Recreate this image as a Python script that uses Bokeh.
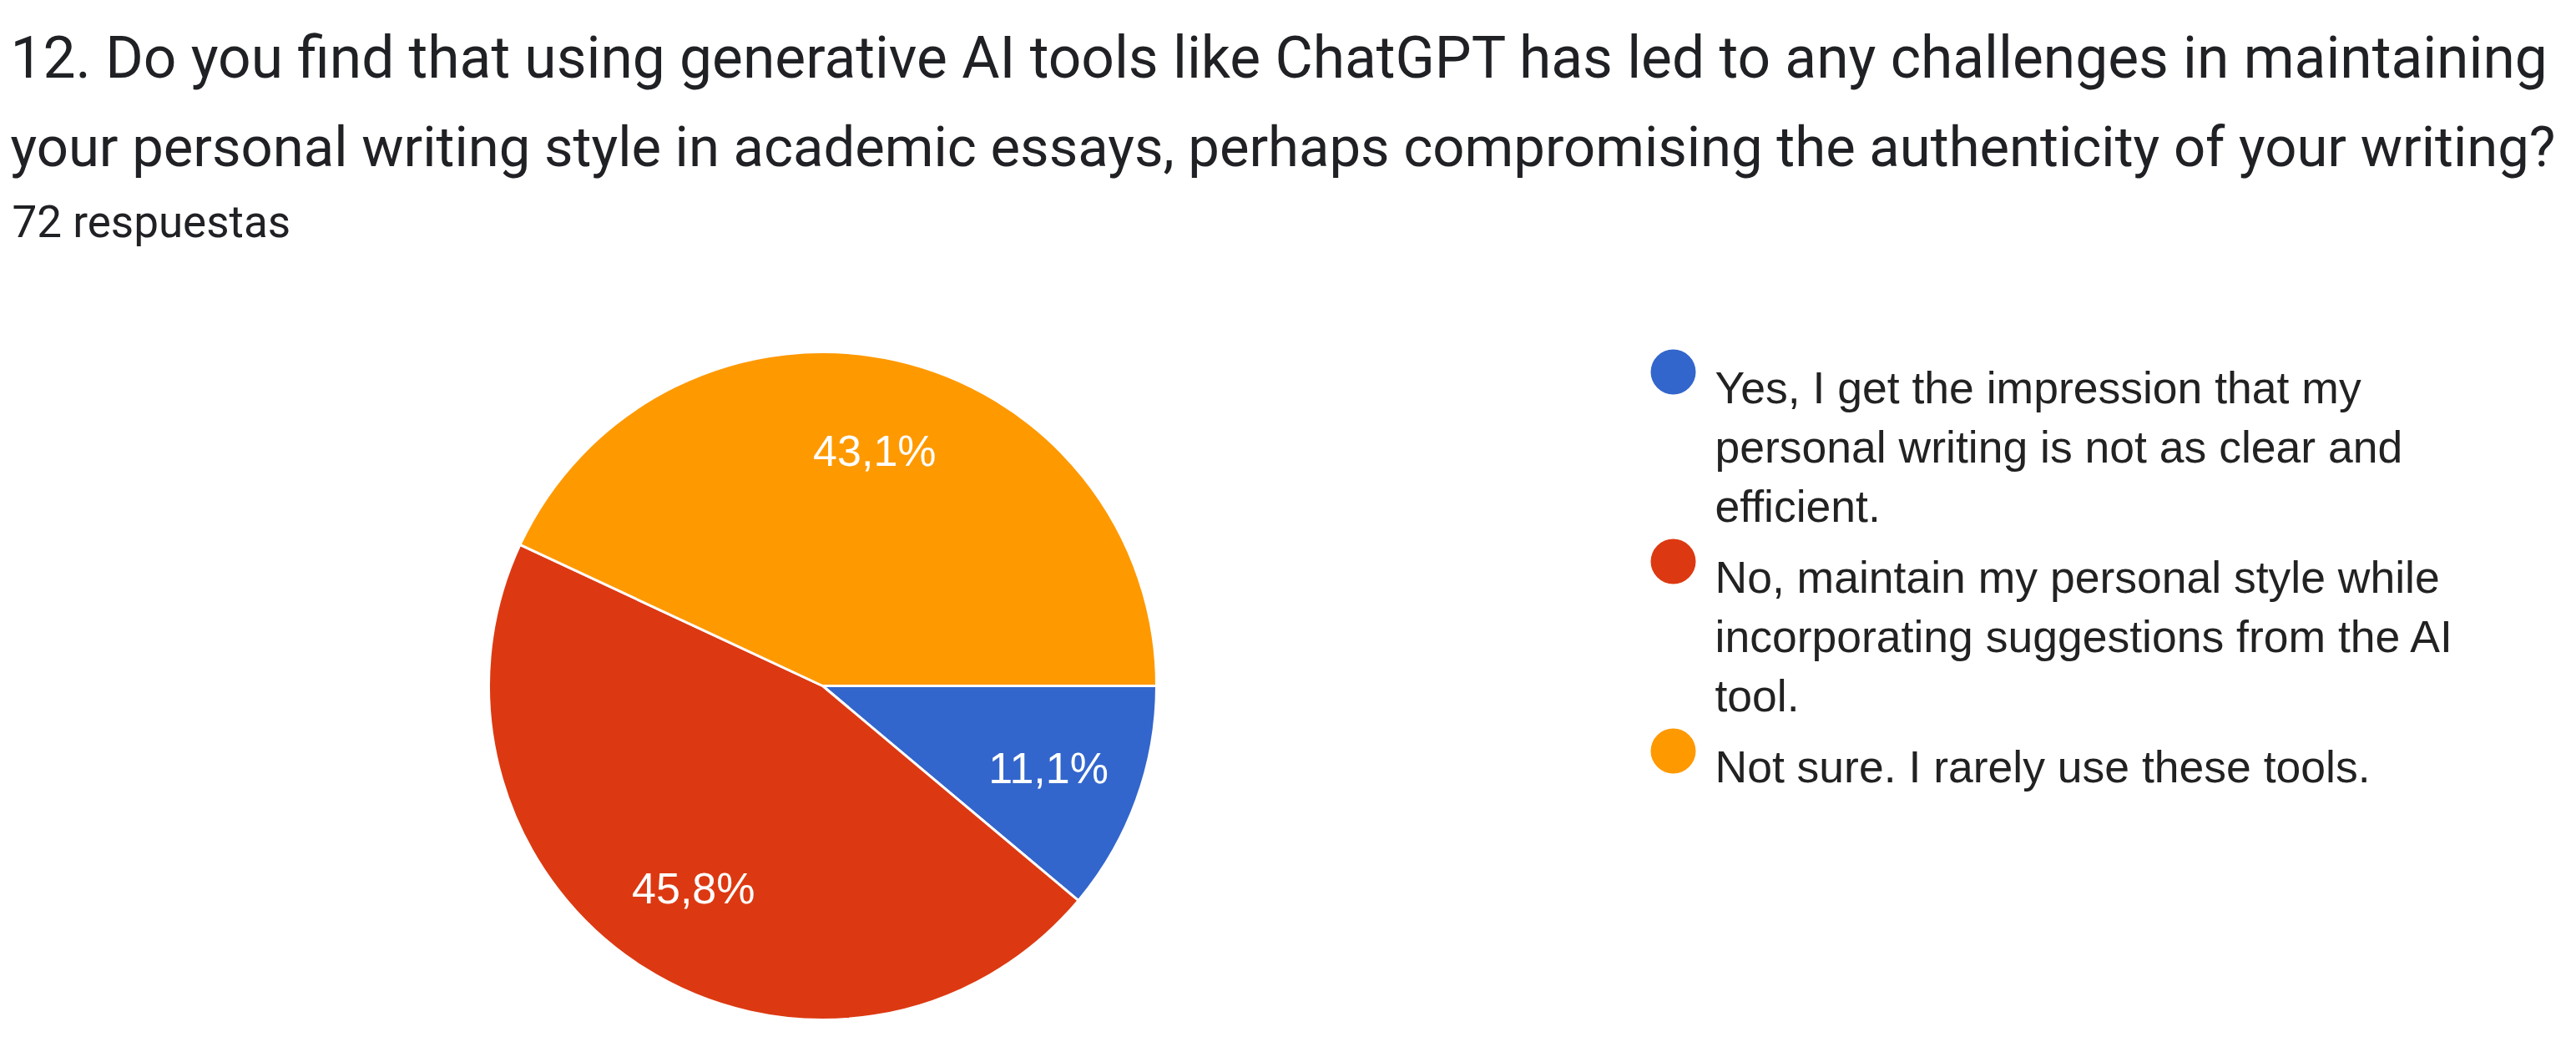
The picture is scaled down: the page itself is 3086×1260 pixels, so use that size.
import math
from bokeh.plotting import figure
from bokeh.models import Range1d, Label, ColumnDataSource
from bokeh.core.properties import value
from bokeh.embed import file_html
from bokeh.resources import INLINE

# ---- data ----
title_lines = [
    "12. Do you find that using generative AI tools like ChatGPT has led to any challenges in maintaining",
    "your personal writing style in academic essays, perhaps compromising the authenticity of your writing?",
]
responses_text = "72 respuestas"
categories = [
    "Yes, I get the impression that my personal writing is not as clear and efficient.",
    "No, maintain my personal style while incorporating suggestions from the AI tool.",
    "Not sure. I rarely use these tools.",
]
legend_lines = [
    ["Yes, I get the impression that my", "personal writing is not as clear and", "efficient."],
    ["No, maintain my personal style while", "incorporating suggestions from the AI", "tool."],
    ["Not sure. I rarely use these tools."],
]
counts = [8, 33, 31]
colors = ["#3366cc", "#dc3912", "#ff9900"]

# ---- layout (page pixel coordinates) ----
W, H = 3070, 1244
def X(xs):
    return xs - 8
def Y(ys):
    return (H + 8) - ys

p = figure(width=W, height=H, output_backend="svg", toolbar_location=None,
           x_range=Range1d(0, W), y_range=Range1d(0, H), min_border=0)
p.axis.visible = False
p.grid.visible = False
p.outline_line_color = None
p.background_fill_color = "white"
p.border_fill_color = "white"

# pie
cx, cy, R = 993, 829, 400
total = sum(counts)
starts, ends, mids, pct = [], [], [], []
cum = 0.0
for c in counts:
    a0 = cum / total
    cum += c
    a1 = cum / total
    # clockwise from 3 o'clock
    starts.append(-a1 * 2 * math.pi)
    ends.append(-a0 * 2 * math.pi)
    mids.append(-(a0 + a1) / 2 * 2 * math.pi)
    pct.append(("%.1f%%" % (100.0 * c / total)).replace(".", ","))

src = ColumnDataSource(dict(x=[X(cx)] * 3, y=[Y(cy)] * 3, s=starts, e=ends, color=colors))
p.wedge(x="x", y="y", radius=R, start_angle="s", end_angle="e", direction="anticlock",
        fill_color="color", line_color="white", line_width=3, source=src)

lr = 0.72 * R
lab = ColumnDataSource(dict(
    x=[X(cx) + lr * math.cos(m) for m in mids],
    y=[Y(cy) + lr * math.sin(m) for m in mids],
    t=pct))
p.text(x="x", y="y", text="t", source=lab, text_color="white",
       text_font=value("Liberation Sans"), text_font_size="52px",
       text_align="center", text_baseline="middle")

# title
title_baselines = [77, 183]
title_sizes = ["69.5px", "67px"]
for line, b, fs in zip(title_lines, title_baselines, title_sizes):
    p.add_layout(Label(x=X(20), y=Y(b), text=line, text_font="Roboto",
                       text_font_size=fs, text_color="#202124",
                       text_baseline="alphabetic", text_align="left"))
p.add_layout(Label(x=X(22), y=Y(273), text=responses_text, text_font="Roboto",
                   text_font_size="53px", text_color="#202124",
                   text_baseline="alphabetic", text_align="left"))

# legend
dot_x, text_x = 2012, 2062
line_gap, group_gap = 71, 85
baseline = 472
dots_x, dots_y, lx, ly, lt = [], [], [], [], []
for i, lines in enumerate(legend_lines):
    dots_x.append(X(dot_x))
    dots_y.append(Y(baseline - 19))
    for j, t in enumerate(lines):
        lx.append(X(text_x))
        ly.append(Y(baseline))
        lt.append(t)
        if j < len(lines) - 1:
            baseline += line_gap
    baseline += group_gap

p.circle(x=dots_x, y=dots_y, radius=27, fill_color=colors, line_color=None)
p.text(x=lx, y=ly, text=lt, text_color="#222222", text_font=value("Liberation Sans"),
       text_font_size="53.5px", text_align="left", text_baseline="alphabetic")

open("out.html", "w").write(file_html(p, INLINE))
